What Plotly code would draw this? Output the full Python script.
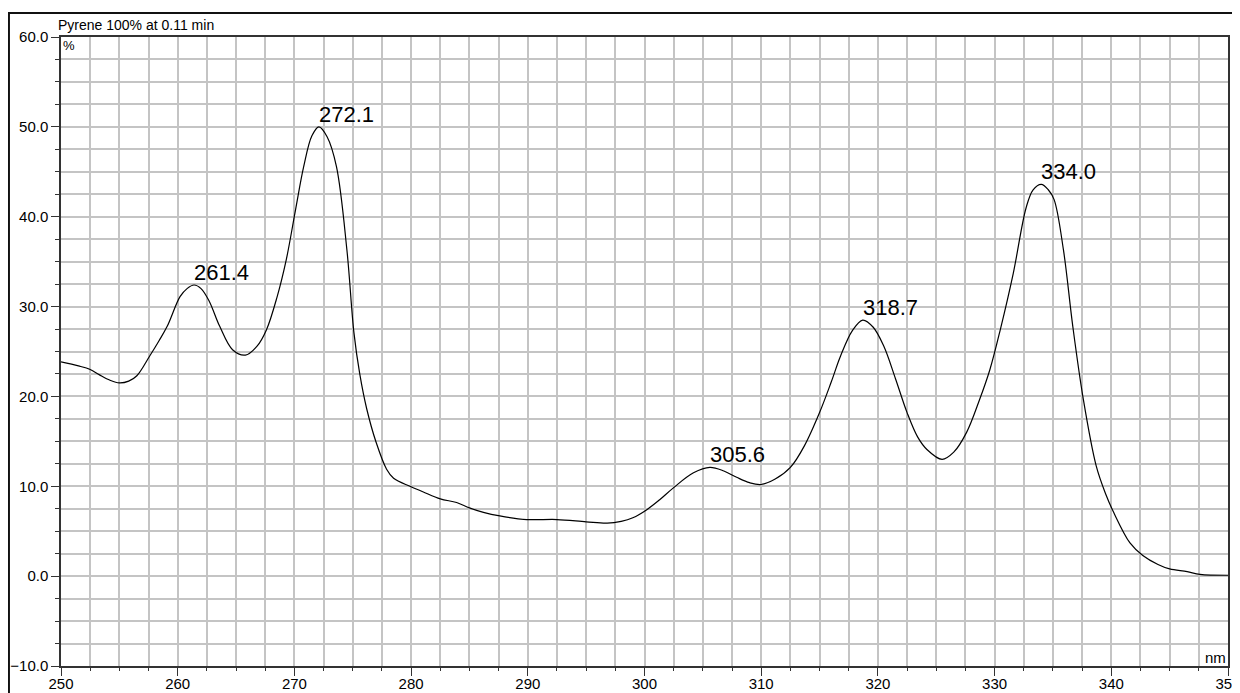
import plotly.graph_objects as go

# Spectrum (wavelength nm, relative %)
wavelength = [250.0, 251.5, 252.5, 253.3, 254.2, 255.0, 255.8, 256.5, 257.6, 258.4,
              259.1, 260.2, 260.8, 261.4, 262.0, 262.7, 263.6, 264.7, 265.8, 266.8,
              267.6, 268.5, 269.3, 270.1, 270.8, 271.5, 272.1, 272.8, 273.6, 274.5,
              275.1, 275.6, 276.2, 277.0, 277.9, 278.5, 279.9, 281.0, 282.5, 283.9,
              285.0, 286.2, 287.6, 289.9, 292.5, 295.0, 296.8, 298.0, 299.0, 300.2,
              301.3, 302.5, 304.2, 305.6, 306.8, 307.9, 309.0, 310.0, 311.2, 312.5,
              313.7, 315.0, 316.0, 316.8, 317.8, 318.7, 319.6, 320.5, 321.5, 322.5,
              323.4, 324.2, 325.5, 326.5, 327.6, 328.7, 329.6, 330.5, 331.6, 332.7,
              333.3, 334.0, 334.6, 335.1, 335.9, 336.7, 337.6, 338.7, 339.5, 340.2,
              341.6, 342.7, 344.0, 345.0, 346.5, 347.6, 350.0]
percent = [23.85, 23.4, 23.0, 22.4, 21.8, 21.5, 21.7, 22.3, 24.5, 26.2,
           27.8, 31.1, 32.0, 32.4, 32.0, 30.6, 27.8, 25.2, 24.6, 25.6,
           27.4, 31.0, 35.2, 40.8, 45.6, 49.0, 50.0, 48.9, 45.6, 36.3,
           27.1, 22.5, 18.6, 14.9, 11.9, 10.9, 10.0, 9.4, 8.6, 8.2,
           7.6, 7.1, 6.7, 6.3, 6.3, 6.05, 5.9, 6.1, 6.5, 7.4,
           8.5, 9.85, 11.5, 12.1, 11.7, 11.0, 10.4, 10.2, 10.8, 12.1,
           14.5, 18.2, 21.6, 24.5, 27.3, 28.5, 27.7, 25.6, 22.0, 18.2,
           15.5, 14.1, 13.0, 13.8, 16.0, 19.6, 23.0, 27.5, 33.7, 41.0,
           43.0, 43.6, 43.0, 41.9, 36.3, 27.8, 19.7, 12.3, 9.2, 7.1,
           3.7, 2.3, 1.3, 0.8, 0.5, 0.2, 0.1]

# Peak labels
peak_wl = [261.4, 272.1, 305.6, 318.7, 334.0]
peak_val = [32.4, 50.0, 12.1, 28.5, 43.6]
peak_text = ["261.4", "272.1", "305.6", "318.7", "334.0"]

title_text = "Pyrene 100% at 0.11 min"
y_unit = "%"
x_unit = "nm"

FONT = "Liberation Sans, Arial, sans-serif"
GRID = "#c4c4c4"

fig = go.Figure()
fig.add_trace(go.Scatter(x=wavelength, y=percent, mode="lines",
                         line=dict(color="black", width=1.2, shape="spline", smoothing=1.0),
                         hoverinfo="skip", showlegend=False))

for wl, v, t in zip(peak_wl, peak_val, peak_text):
    fig.add_annotation(x=wl, y=v, text=t, showarrow=False, xanchor="left",
                       yanchor="bottom", xshift=-2, yshift=-2,
                       font=dict(family=FONT, size=22, color="black"))

fig.add_annotation(x=-0.004, y=1.019, xref="paper", yref="paper", text=title_text,
                   showarrow=False, xanchor="left", yanchor="middle",
                   font=dict(family=FONT, size=14, color="black"))
fig.add_annotation(x=0.0, y=0.987, xref="paper", yref="paper", text=y_unit,
                   showarrow=False, xanchor="left", yanchor="middle",
                   font=dict(family=FONT, size=13, color="black"))
fig.add_annotation(x=1.0, y=0.014, xref="paper", yref="paper", text=x_unit,
                   showarrow=False, xanchor="right", yanchor="middle",
                   font=dict(family=FONT, size=15, color="black"))

# outer frame
fig.add_shape(type="rect", xref="paper", yref="paper",
              x0=-0.0446, x1=1.0146, y0=-0.06, y1=1.0382,
              line=dict(color="#111111", width=2), fillcolor="rgba(0,0,0,0)", layer="above")

# page body has an 8px default margin, so the figure is sized/offset to compensate
fig.update_layout(
    width=1232, height=685,
    margin=dict(l=53, r=12, t=29, b=27, autoexpand=False),
    paper_bgcolor="white", plot_bgcolor="white",
    font=dict(family=FONT, size=15, color="black"),
    xaxis=dict(range=[250, 350], tick0=250, dtick=10, ticks="outside", ticklen=8,
               tickcolor="#333", tickwidth=1.3, automargin=False,
               ticklabelstandoff=-5, ticklabeloverflow="allow",
               showgrid=True, gridcolor=GRID, gridwidth=1.5,
               minor=dict(dtick=2.5, ticks="outside", ticklen=3, tickcolor="#333",
                          showgrid=True, gridcolor=GRID, gridwidth=1.5),
               showline=True, linecolor="#333", linewidth=1.5, mirror=True,
               zeroline=False, tickfont=dict(size=15)),
    yaxis=dict(range=[-10, 60], tick0=0, dtick=10, tickformat=".1f", ticks="outside",
               ticklen=8, tickcolor="#333", tickwidth=1.3, automargin=False,
               ticklabeloverflow="allow",
               showgrid=True, gridcolor=GRID, gridwidth=1.5,
               minor=dict(dtick=2.5, ticks="outside", ticklen=4, tickcolor="#333",
                          showgrid=True, gridcolor=GRID, gridwidth=1.5),
               showline=True, linecolor="#333", linewidth=1.5, mirror=True,
               zeroline=False, tickfont=dict(size=15)),
)

fig.write_html("out.html")
